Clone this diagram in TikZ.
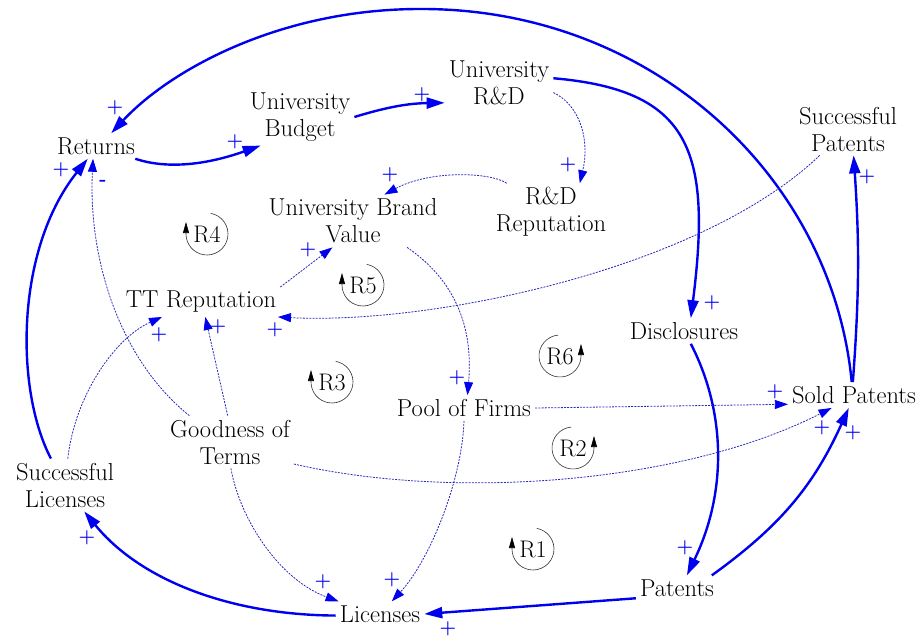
\documentclass[tikz,border=0pt]{standalone}
\usetikzlibrary{arrows.meta}

\definecolor{linkblue}{RGB}{0,0,240}
\definecolor{dotblue}{RGB}{40,40,190}

\tikzset{
  var/.style={align=center, inner sep=4pt, font=\fontsize{24.5}{27}\selectfont},
  strong/.style={draw=linkblue, line width=2.4pt, -{Triangle[length=18pt,width=11pt]}},
  weak/.style={draw=dotblue, line width=0.8pt, dash pattern=on 2pt off 1.2pt,
    -{Triangle[length=13pt,width=9pt,color=linkblue]}},
  pol/.style={text=linkblue, inner sep=0pt, font=\bfseries\fontsize{19}{19}\selectfont},
  loopname/.style={inner sep=0pt, font=\fontsize{24}{24}\selectfont},
  looparrow/.style={draw=black!80, line width=0.6pt, -{Triangle[length=11pt,width=6pt,color=black]}},
}

\begin{document}
\begin{tikzpicture}[x=1pt,y=-1pt]
    \useasboundingbox (0,0) rectangle (918,640);

    % variables
    \node[var] (ret)  at (96,146)  {Returns};
    \node[var] (bud)  at (300,117) {University\\Budget};
    \node[var] (rnd)  at (499,83)  {University\\R\&D};
    \node[var] (spat) at (848,129) {Successful\\Patents};
    \node[var] (rrep) at (551,212) {R\&D\\Reputation};
    \node[var] (ubv)  at (353,221) {University Brand\\Value};
    \node[var] (ttr)  at (201,302) {TT Reputation};
    \node[var] (dis)  at (684,331) {Disclosures};
    \node[var] (pool) at (464,408) {Pool of Firms};
    \node[var] (sold) at (854,395) {Sold Patents};
    \node[var] (good) at (230,442) {Goodness of\\Terms};
    \node[var] (slic) at (65,485)  {Successful\\Licenses};
    \node[var] (pat)  at (677,588) {Patents};
    \node[var] (lic)  at (380,614) {Licenses};

    % strong links
    \draw[strong] (sold.100) .. controls (832,175) and (650,8) .. (420,9)
                  .. controls (280,9) and (170,70) .. (ret.40);
    \draw[strong] (ret.-18) .. controls (175,172) and (220,160) .. (bud.216);
    \draw[strong] (bud.east) to[bend left=8] (rnd.200);
    \draw[strong] (rnd.5) .. controls (690,90) and (712,150) .. (dis.62);
    \draw[strong] (sold.95) to[bend right=4] (spat.-78);
    \draw[strong] (dis.-62) .. controls (725,410) and (728,490) .. (pat.52);
    \draw[strong] (pat.20) to[bend right=15] (sold.248);
    \draw[strong] (pat.194) -- (lic.east);
    \draw[strong] (lic.182) .. controls (230,615) and (140,580) .. (slic.-54);
    \draw[strong] (slic.118) .. controls (15,390) and (15,250) .. (ret.237);

    % weak links
    \draw[weak] (rnd.-10) .. controls (580,105) and (590,140) .. (rrep.45);
    \draw[weak] (rrep.147) .. controls (490,172) and (430,170) .. (ubv.40);
    \draw[weak] (ttr.north east) -- (ubv.232);
    \draw[weak] (spat.223) .. controls (700,270) and (430,325) .. (ttr.-11);
    \draw[weak] (ubv.-26) .. controls (440,270) and (475,310) .. (pool.75);
    \draw[weak] (pool.-90) .. controls (462,480) and (430,560) .. (lic.47);
    \draw[weak] (pool.east) -- (sold.188);
    \draw[weak] (good.-19) .. controls (450,500) and (680,485) .. (sold.210);
    \draw[weak] (good.-88) .. controls (240,520) and (280,580) .. (lic.163);
    \draw[weak] (good.95) -- (ttr.-74);
    \draw[weak] (slic.84) .. controls (75,395) and (115,338) .. (ttr.201);
    \draw[weak] (good.147) .. controls (120,360) and (88,260) .. (ret.257);

    % polarities
    \foreach \x/\y [count=\i] in {115/108, 235/142, 422/95, 712/303, 867/177, 685/548,
        853/433, 448/629, 87/538, 61/170, 568/165, 390/175, 308/250, 275/330, 457/378,
        392/580, 775/392, 822/428, 323/582, 218/327, 159/335}
      \node[pol] (plus\i) at (\x,\y) {+};
    \node[pol] (minus) at (103,183) {-};

    % loop markers
    \foreach \nm/\x/\y in {R1/533/549, R3/332/382, R4/207/234, R5/363/285}{
      \node[loopname] (\nm) at (\x,\y) {\nm};
      \draw[looparrow] (\x,\y) ++(-80:21) arc[start angle=-80, end angle=180, radius=21] -- ++(0,-12);
    }
    \foreach \nm/\x/\y in {R2/573/448, R6/560/356}{
      \node[loopname] (\nm) at (\x,\y) {\nm};
      \draw[looparrow] (\x,\y) ++(-95:21) arc[start angle=-95, end angle=-360, radius=21] -- ++(0,-12);
    }
\end{tikzpicture}
\end{document}
